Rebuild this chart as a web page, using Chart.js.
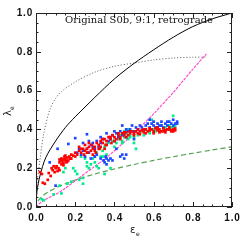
<!DOCTYPE html>
<html>
<head>
<meta charset="utf-8">
<script src="https://cdn.jsdelivr.net/npm/chart.js@4"></script>
<style>
  html, body { margin: 0; padding: 0; background: #fff; }
  #wrap { width: 245px; height: 245px; }
</style>
</head>
<body>
<div id="wrap"><canvas id="c" width="245" height="245"></canvas></div>
<script>
// tick values for both axes
var TICKS = [0, 0.2, 0.4, 0.6, 0.8, 1.0];
var TICK_LABELS = ['0.0', '0.2', '0.4', '0.6', '0.8', '1.0'];
var TITLE = 'Original S0b, 9:1, retrograde';

// curves
var blackEps = [0, 0.005, 0.02, 0.05, 0.1, 0.15, 0.2, 0.25, 0.3, 0.4, 0.5, 0.6, 0.7, 0.8, 0.9, 1.0];
var blackLam = [0, 0.08, 0.16, 0.255, 0.34, 0.41, 0.465, 0.515, 0.565, 0.66, 0.74, 0.81, 0.875, 0.93, 0.97, 1.0];

var dotEps = [0, 0.005, 0.02, 0.04, 0.07, 0.1, 0.13, 0.2, 0.3, 0.4, 0.5, 0.6, 0.7, 0.8, 0.87];
var dotLam = [0, 0.12, 0.24, 0.38, 0.5, 0.56, 0.595, 0.645, 0.695, 0.725, 0.742, 0.758, 0.768, 0.772, 0.773];

var pinkEps = [0, 0.02, 0.05, 0.1, 0.14, 0.2, 0.3, 0.36, 0.4, 0.5, 0.53, 0.6, 0.7, 0.75, 0.8, 0.87];
var pinkLam = [0, 0.02, 0.04, 0.065, 0.09, 0.135, 0.21, 0.255, 0.29, 0.38, 0.41, 0.48, 0.59, 0.65, 0.71, 0.79];

var greenEps = [0.01, 0.03, 0.06, 0.1, 0.15, 0.2, 0.3, 0.4, 0.5, 0.6, 0.7, 0.8, 0.9, 1.0];
var greenLam = [0.031, 0.054, 0.076, 0.098, 0.12, 0.139, 0.17, 0.196, 0.219, 0.24, 0.259, 0.277, 0.294, 0.31];

// scatter points [eps, lambda]
var redPts = [
  [0.02,0.18],[0.03,0.17],[0.035,0.125],[0.045,0.12],[0.06,0.14],[0.065,0.175],[0.075,0.16],[0.08,0.2],
  [0.085,0.19],[0.09,0.21],[0.095,0.18],[0.1,0.2],[0.105,0.21],[0.11,0.185],[0.115,0.2],[0.12,0.19],
  [0.12,0.23],[0.125,0.24],[0.13,0.22],[0.13,0.25],[0.135,0.235],[0.14,0.245],[0.14,0.225],[0.145,0.26],
  [0.15,0.24],[0.15,0.25],[0.155,0.23],[0.16,0.255],[0.165,0.24],[0.17,0.26],[0.175,0.25],[0.18,0.27],
  [0.19,0.265],[0.2,0.28],[0.21,0.27],[0.22,0.29],[0.23,0.28],[0.24,0.3],[0.245,0.27],[0.25,0.29],
  [0.26,0.3],[0.265,0.28],[0.27,0.31],[0.28,0.29],[0.285,0.32],[0.29,0.3],[0.3,0.31],[0.305,0.28],
  [0.31,0.33],[0.32,0.32],[0.325,0.3],[0.33,0.34],[0.34,0.33],[0.35,0.35],[0.355,0.32],[0.36,0.34],
  [0.37,0.36],[0.38,0.35],[0.385,0.33],[0.39,0.37],[0.4,0.36],[0.41,0.35],[0.42,0.37],[0.43,0.36],
  [0.44,0.38],[0.45,0.37],[0.46,0.385],[0.47,0.37],[0.48,0.38],[0.49,0.39],[0.5,0.38],[0.51,0.39],
  [0.52,0.38],[0.53,0.39],[0.54,0.395],[0.55,0.385],[0.56,0.4],[0.57,0.39],[0.58,0.395],[0.59,0.4],
  [0.6,0.39],[0.61,0.405],[0.62,0.395],[0.63,0.4],[0.64,0.39],[0.65,0.405],[0.66,0.395],[0.67,0.4],
  [0.68,0.41],[0.69,0.395],[0.7,0.4],[0.71,0.405],
  [0.14,0.215],[0.16,0.235],[0.18,0.25],[0.12,0.245],[0.15,0.265],[0.2,0.26],[0.23,0.3],[0.26,0.28],
  [0.3,0.29],[0.33,0.31],[0.36,0.32],[0.4,0.34],[0.43,0.35],[0.46,0.36],[0.5,0.37],[0.53,0.375],
  [0.56,0.38],[0.6,0.38],[0.63,0.385],[0.66,0.385],[0.69,0.39],[0.71,0.395],[0.55,0.4],[0.58,0.405],
  [0.62,0.41],[0.65,0.39],[0.68,0.4],[0.7,0.39],[0.45,0.385],[0.48,0.39],[0.52,0.4],[0.42,0.38],
  [0.38,0.36],[0.34,0.35],[0.27,0.33],[0.22,0.31],[0.25,0.32],[0.29,0.27],[0.32,0.3],[0.35,0.3]
];
var bluePts = [
  [0.07,0.23],[0.1,0.11],[0.11,0.3],[0.165,0.325],[0.2,0.355],[0.26,0.375],[0.21,0.28],[0.22,0.3],
  [0.23,0.27],[0.24,0.29],[0.25,0.26],[0.26,0.3],[0.27,0.28],[0.28,0.32],[0.28,0.25],[0.29,0.33],
  [0.3,0.3],[0.3,0.26],[0.31,0.34],[0.32,0.31],[0.33,0.33],[0.34,0.35],[0.345,0.24],[0.35,0.23],
  [0.355,0.26],[0.36,0.25],[0.36,0.22],[0.37,0.24],[0.37,0.34],[0.375,0.36],[0.38,0.25],[0.38,0.35],
  [0.39,0.37],[0.4,0.34],[0.41,0.38],[0.42,0.36],[0.43,0.26],[0.44,0.27],[0.45,0.25],[0.43,0.39],
  [0.44,0.37],[0.45,0.38],[0.46,0.36],[0.47,0.39],[0.48,0.4],[0.5,0.39],[0.51,0.41],[0.52,0.4],
  [0.54,0.41],[0.55,0.4],[0.56,0.42],[0.58,0.41],[0.59,0.43],[0.6,0.42],[0.61,0.41],[0.62,0.43],
  [0.63,0.42],[0.64,0.44],[0.65,0.41],[0.66,0.43],[0.67,0.42],[0.68,0.44],[0.69,0.43],[0.7,0.45],
  [0.71,0.43],[0.72,0.44],[0.41,0.3],
  [0.29,0.31],[0.33,0.36],[0.36,0.38],[0.4,0.39],[0.46,0.4],[0.49,0.42],[0.53,0.42],[0.57,0.43],
  [0.6,0.44],[0.64,0.42],[0.67,0.44],[0.7,0.42],[0.72,0.43],[0.62,0.41],[0.24,0.33],[0.27,0.34],
  [0.31,0.27],[0.33,0.25],[0.39,0.24],[0.46,0.27],[0.5,0.35],[0.44,0.42],[0.58,0.45]
];
var greenPts = [
  [0.03,0.04],[0.04,0.035],[0.09,0.065],[0.13,0.07],[0.12,0.11],[0.14,0.18],[0.15,0.2],[0.19,0.2],
  [0.2,0.185],[0.21,0.17],[0.22,0.14],[0.24,0.12],[0.24,0.15],[0.23,0.26],[0.25,0.25],[0.26,0.23],
  [0.27,0.2],[0.28,0.22],[0.29,0.25],[0.3,0.23],[0.31,0.21],[0.31,0.28],[0.32,0.2],[0.33,0.26],
  [0.34,0.29],[0.35,0.31],[0.35,0.17],[0.36,0.27],[0.37,0.33],[0.38,0.35],[0.38,0.2],[0.39,0.34],
  [0.4,0.36],[0.41,0.33],[0.42,0.35],[0.43,0.37],[0.44,0.34],[0.45,0.36],[0.46,0.38],[0.47,0.35],
  [0.48,0.37],[0.49,0.39],[0.5,0.36],[0.51,0.3],[0.52,0.38],[0.54,0.39],[0.55,0.37],[0.56,0.4],
  [0.58,0.39],[0.59,0.45],[0.6,0.4],[0.62,0.41],[0.63,0.39],[0.64,0.42],[0.66,0.41],[0.67,0.4],
  [0.68,0.42],[0.69,0.41],[0.7,0.47],[0.71,0.42],
  [0.42,0.38],[0.45,0.39],[0.48,0.36],[0.52,0.37],[0.55,0.4],[0.58,0.38],[0.61,0.39],[0.65,0.4],
  [0.68,0.4],[0.7,0.41],[0.3,0.26],[0.26,0.21],[0.36,0.32],[0.34,0.26],[0.4,0.31],[0.44,0.33],
  [0.5,0.33],[0.18,0.13],[0.16,0.12],[0.47,0.4]
];

function xy(xs, ys) {
  return xs.map(function (x, i) { return { x: x, y: ys[i] }; });
}
function pts(arr) {
  return arr.map(function (p) { return { x: p[0], y: p[1] }; });
}

function curve(data, color, dash, width) {
  return {
    data: data, showLine: true, borderColor: color, borderWidth: width,
    borderDash: dash, pointRadius: 0, tension: 0.3, fill: false
  };
}
function scatter(data, color) {
  return {
    data: data, showLine: false, pointStyle: 'rect', pointRadius: 1.9,
    backgroundColor: color, borderWidth: 0
  };
}

// frame, inward ticks, labels and titles
var decor = {
  id: 'decor',
  afterDraw: function (chart) {
    var ctx = chart.ctx, a = chart.chartArea;
    var sx = chart.scales.x, sy = chart.scales.y;
    ctx.save();
    ctx.strokeStyle = '#222';
    ctx.lineWidth = 1;
    ctx.strokeRect(a.left + 0.5, a.top + 0.5, a.right - a.left - 1, a.bottom - a.top - 1);
    ctx.beginPath();
    for (var i = 0; i <= 20; i++) {
      var v = i / 20;
      var len = (i % 4 === 0) ? 5 : 2.5;
      var px = Math.round(sx.getPixelForValue(v)) + 0.5;
      var py = Math.round(sy.getPixelForValue(v)) + 0.5;
      ctx.moveTo(px, a.bottom); ctx.lineTo(px, a.bottom - len);
      ctx.moveTo(px, a.top); ctx.lineTo(px, a.top + len);
      ctx.moveTo(a.left, py); ctx.lineTo(a.left + len, py);
      ctx.moveTo(a.right, py); ctx.lineTo(a.right - len, py);
    }
    ctx.stroke();

    ctx.fillStyle = '#111';
    ctx.font = 'bold 10px "Liberation Sans", sans-serif';
    ctx.letterSpacing = '0.8px';
    ctx.textBaseline = 'middle';
    TICKS.forEach(function (t, i) {
      ctx.textAlign = 'right';
      ctx.fillText(TICK_LABELS[i], a.left - 3, sy.getPixelForValue(t));
      ctx.textAlign = 'center';
      ctx.fillText(TICK_LABELS[i], sx.getPixelForValue(t) + 0.5, a.bottom + 11);
    });
    ctx.letterSpacing = '0px';

    // plot title inside the frame
    ctx.font = '10px "DejaVu Serif", serif';
    ctx.textAlign = 'center';
    ctx.textBaseline = 'alphabetic';
    ctx.fillText(TITLE, 139, 23);

    // axis titles with subscripts
    ctx.font = '10px "DejaVu Sans", sans-serif';
    ctx.textAlign = 'left';
    ctx.fillText('\u03b5', 130, 233);
    ctx.font = '6px "DejaVu Sans", sans-serif';
    ctx.fillText('e', 136, 236);

    ctx.translate(11, 116);
    ctx.rotate(-Math.PI / 2);
    ctx.font = '10px "DejaVu Sans", sans-serif';
    ctx.fillText('\u03bb', 0, 0);
    ctx.font = '6px "DejaVu Sans", sans-serif';
    ctx.fillText('e', 6, 3);
    ctx.restore();
  }
};

new Chart(document.getElementById('c'), {
  type: 'scatter',
  data: {
    datasets: [
      scatter(pts(redPts), '#ff0000'),
      scatter(pts(bluePts), '#1e46ff'),
      scatter(pts(greenPts), '#00eb8c'),
      curve(xy(blackEps, blackLam), '#000000', [], 1),
      curve(xy(dotEps, dotLam), '#555555', [1, 2], 1),
      curve(xy(pinkEps, pinkLam), '#ff44cc', [3, 1], 1.1),
      curve(xy(greenEps, greenLam), '#55a050', [5, 3], 1.2)
    ]
  },
  options: {
    responsive: false,
    animation: false,
    devicePixelRatio: 1,
    layout: { padding: { top: 13, right: 13, left: 0, bottom: 0 } },
    plugins: { legend: { display: false }, tooltip: { enabled: false }, title: { display: false } },
    scales: {
      x: {
        type: 'linear', min: 0, max: 1,
        ticks: { display: false }, grid: { display: false }, border: { display: false },
        afterFit: function (s) { s.height = 38; }
      },
      y: {
        type: 'linear', min: 0, max: 1,
        ticks: { display: false }, grid: { display: false }, border: { display: false },
        afterFit: function (s) { s.width = 36; }
      }
    }
  },
  plugins: [decor]
});
</script>
</body>
</html>
